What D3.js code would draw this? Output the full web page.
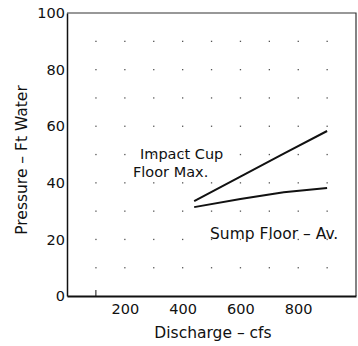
<!DOCTYPE html>
<html>
<head>
<meta charset="utf-8">
<script src="https://cdn.jsdelivr.net/npm/d3@7"></script>
<style>
  html, body { margin: 0; padding: 0; background: #fff; }
  svg text { font-family: "DejaVu Sans", sans-serif; fill: #111; }
</style>
</head>
<body>
<svg id="chart" width="358" height="346"></svg>
<script>
// Discharge (cfs) at which pressures were recorded
const discharge = [440, 600, 750, 900];
// Pressure in ft of water
const impactCupFloorMax = [33.5, 42.2, 50.3, 58.3];
const sumpFloorAv = [31.4, 34.3, 36.7, 38.2];

const xTicks = [200, 400, 600, 800];
const yTicks = [0, 20, 40, 60, 80, 100];
const xGrid = [100, 200, 300, 400, 500, 600, 700, 800, 900];
const yGrid = [10, 20, 30, 40, 50, 60, 70, 80, 90];

const svg = d3.select("#chart");
const plotLeft = 67, plotRight = 356, plotTop = 13, plotBottom = 296;
const font = "'DejaVu Sans', sans-serif";

const x = d3.scaleLinear().domain([0, 1000]).range([plotLeft, plotRight]);
const y = d3.scaleLinear().domain([0, 100]).range([plotBottom, plotTop]);

// faint dotted grid: a dot at each intersection
const pts = [];
xGrid.forEach(gx => yGrid.forEach(gy => pts.push([gx, gy])));
svg.append("g").selectAll("rect").data(pts).join("rect")
  .attr("x", d => x(d[0]) - 0.6)
  .attr("y", d => y(d[1]) - 0.6)
  .attr("width", 1.3).attr("height", 1.3)
  .attr("fill", "#555");

// frame
svg.append("path")
  .attr("d", `M${plotLeft},${plotTop} H${plotRight} V${plotBottom}`)
  .attr("fill", "none").attr("stroke", "#333").attr("stroke-width", 1.2);

// axes
const xAxis = d3.axisBottom(x).tickValues(xTicks).tickSize(0).tickPadding(8);
const gx = svg.append("g").attr("transform", `translate(0,${plotBottom})`).call(xAxis);
gx.select(".domain").attr("stroke", "#111").attr("stroke-width", 2);
gx.selectAll("text").attr("font-size", 14.5).attr("fill", "#111")
  .style("font-family", font);

const yAxis = d3.axisLeft(y).tickValues(yTicks).tickSize(0).tickPadding(2)
  .tickFormat(d3.format("d"));
const gy = svg.append("g").attr("transform", `translate(${plotLeft},0)`).call(yAxis);
gy.select(".domain").attr("stroke", "#111").attr("stroke-width", 1.5);
gy.selectAll("text").attr("font-size", 14.5).attr("fill", "#111")
  .style("font-family", font);

// small tick at 100 cfs
svg.append("line")
  .attr("x1", x(100)).attr("x2", x(100))
  .attr("y1", plotBottom).attr("y2", plotBottom - 6)
  .attr("stroke", "#111").attr("stroke-width", 1);

// curves
const line = d3.line().x(d => x(d[0])).y(d => y(d[1]));
[impactCupFloorMax, sumpFloorAv].forEach(series => {
  svg.append("path")
    .datum(discharge.map((q, i) => [q, series[i]]))
    .attr("d", line)
    .attr("fill", "none").attr("stroke", "#111").attr("stroke-width", 2);
});

// curve labels
const lab = svg.append("g").attr("font-size", 15.5);
lab.append("text").attr("x", 140).attr("y", 159).attr("font-size", 14.5).text("Impact Cup");
lab.append("text").attr("x", 133).attr("y", 177).attr("font-size", 14.5).text("Floor Max.");
lab.append("text").attr("x", 210).attr("y", 239).text("Sump Floor \u2013 Av.");

// axis titles
svg.append("text").attr("x", 213).attr("y", 338).attr("text-anchor", "middle")
  .attr("font-size", 15.5).text("Discharge \u2013 cfs");
svg.append("text").attr("transform", "translate(27,160) rotate(-90)")
  .attr("text-anchor", "middle").attr("font-size", 15.5).text("Pressure \u2013 Ft Water");
</script>
</body>
</html>
